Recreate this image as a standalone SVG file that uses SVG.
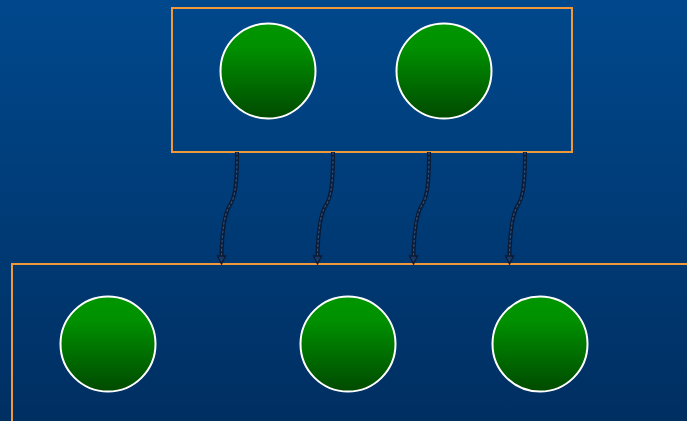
<svg xmlns="http://www.w3.org/2000/svg" width="687" height="421" viewBox="0 0 687 421">
<defs>
<linearGradient id="bg" x1="0" y1="0" x2="0" y2="1">
<stop offset="0" stop-color="#00488c"/>
<stop offset="1" stop-color="#002f62"/>
</linearGradient>
<linearGradient id="g" x1="0" y1="0" x2="0" y2="1">
<stop offset="0" stop-color="#009600"/>
<stop offset="0.25" stop-color="#009000"/>
<stop offset="1" stop-color="#004a00"/>
</linearGradient>
</defs>
<style>
.box{fill:none;stroke:#f0993a;stroke-width:2}
.node{fill:url(#g);stroke:#ffffff;stroke-width:2}
.wo{fill:none;stroke:#0b1b35;stroke-width:4}
.wi{fill:none;stroke:#2c4f80;stroke-width:1.2;stroke-dasharray:3 1.5}
.ah{fill:#1c3a66;stroke:#0b1b35;stroke-width:1.3;stroke-linejoin:miter}
</style>
<rect x="0" y="0" width="687" height="421" fill="url(#bg)"/>
<g id="top-box"><rect class="box" x="172" y="8" width="400" height="144"/></g>
<g id="bottom-box"><rect class="box" x="12" y="264" width="690" height="170"/></g>
<g id="connectors">
<path class="wo" d="M237,152 C237,178 236,196 230,205 C224,214 222,232 221.5,256"/>
<path class="wi" d="M237,152 C237,178 236,196 230,205 C224,214 222,232 221.5,256"/>
<polygon class="ah" points="217.5,256 225.5,256 221.5,264"/>
<path class="wo" d="M333,152 C333,178 332,196 326,205 C320,214 318,232 317.5,256"/>
<path class="wi" d="M333,152 C333,178 332,196 326,205 C320,214 318,232 317.5,256"/>
<polygon class="ah" points="313.5,256 321.5,256 317.5,264"/>
<path class="wo" d="M429,152 C429,178 428,196 422,205 C416,214 414,232 413.5,256"/>
<path class="wi" d="M429,152 C429,178 428,196 422,205 C416,214 414,232 413.5,256"/>
<polygon class="ah" points="409.5,256 417.5,256 413.5,264"/>
<path class="wo" d="M525,152 C525,178 524,196 518,205 C512,214 510,232 509.5,256"/>
<path class="wi" d="M525,152 C525,178 524,196 518,205 C512,214 510,232 509.5,256"/>
<polygon class="ah" points="505.5,256 513.5,256 509.5,264"/>
</g>
<g id="n1"><circle class="node" cx="268" cy="71" r="47.5"/></g>
<g id="n2"><circle class="node" cx="444" cy="71" r="47.5"/></g>
<g id="n3"><circle class="node" cx="108" cy="344" r="47.5"/></g>
<g id="n4"><circle class="node" cx="348" cy="344" r="47.5"/></g>
<g id="n5"><circle class="node" cx="540" cy="344" r="47.5"/></g>
</svg>
